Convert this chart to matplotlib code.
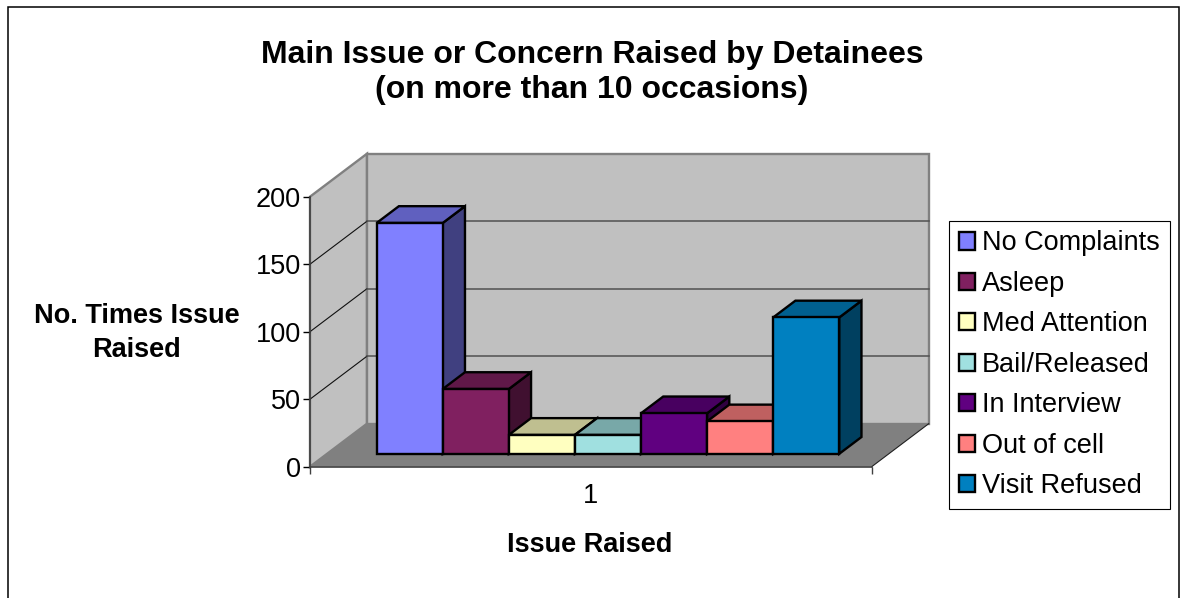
import matplotlib
matplotlib.use("Agg")
import matplotlib.pyplot as plt
from matplotlib.patches import Patch, Polygon, Rectangle

plt.rcParams['font.family'] = ['Liberation Sans', 'DejaVu Sans']

issues = ['No Complaints', 'Asleep', 'Med Attention', 'Bail/Released',
          'In Interview', 'Out of cell', 'Visit Refused']
counts = [171, 48, 14, 14, 30, 24, 101]
front_cols = ['#8080FF', '#802060', '#FFFFC0', '#A0E0E0', '#600080', '#FF8080', '#0080C0']
top_cols = ['#6060BF', '#601848', '#BFBF90', '#78A8A8', '#480060', '#BF6060', '#006090']
side_cols = ['#404080', '#401030', '#808060', '#507070', '#300040', '#804040', '#004060']
y_ticks = [0, 50, 100, 150, 200]

W, H = 1186, 598
# 3d look: how far the back wall sits from the front plane, in data units
depth_x = 57 / 66.08
depth_y = 43 / 1.35
gap = 0.75
bar_d0 = 0.30
bar_d1 = 0.69
x_max = 8.5


def proj(x, v, d):
    return (x + d * depth_x, v + d * depth_y)


fig = plt.figure(figsize=(W / 100, H / 100), dpi=100)
ax = fig.add_axes([310 / W, 1 - 466.7 / H, 561.7 / W, 270 / H])
ax.patch.set_visible(False)

# outer frame, its bottom edge is cut off by the picture
fig.add_artist(Rectangle((7.5 / W, -0.05), (1179 - 7.5) / W, 1.05 - 7.5 / H,
                         transform=fig.transFigure, fill=False, ec='black', lw=1.1))

# walls and floor
wall_kw = dict(clip_on=False, ec='#808080', lw=1.7, joinstyle='miter', zorder=1)
ax.add_patch(Polygon([proj(0, 0, 0), proj(0, 200, 0), proj(0, 200, 1), proj(0, 0, 1)],
                     fc='#C0C0C0', **wall_kw))
ax.add_patch(Polygon([proj(0, 0, 1), proj(x_max, 0, 1), proj(x_max, 200, 1), proj(0, 200, 1)],
                     fc='#C0C0C0', **wall_kw))
ax.add_patch(Polygon([proj(0, 0, 0), proj(x_max, 0, 0), proj(x_max, 0, 1), proj(0, 0, 1)],
                     fc='#808080', ec='none', clip_on=False, zorder=1.5))
ax.plot(*zip(proj(x_max, 0, 0), proj(x_max, 0, 1)), c='#202020', lw=0.8, clip_on=False, zorder=1.6)

for v in y_ticks[1:-1]:
    ax.plot(*zip(proj(0, v, 0), proj(0, v, 1)), c='#101010', lw=0.8, clip_on=False, zorder=2)
    ax.plot(*zip(proj(0, v, 1), proj(x_max, v, 1)), c='#505050', lw=1.1, clip_on=False, zorder=2)

# bars, left to right so each one overlaps the one before
edge_kw = dict(ec='black', lw=1.7, joinstyle='miter', clip_on=False)
for i, (val, fc, tc, sc) in enumerate(zip(counts, front_cols, top_cols, side_cols)):
    x0 = gap + i
    x1 = x0 + 1
    z = 3 + i
    ax.add_patch(Polygon([proj(x1, 0, bar_d0), proj(x1, 0, bar_d1),
                          proj(x1, val, bar_d1), proj(x1, val, bar_d0)],
                         fc=sc, zorder=z, **edge_kw))
    ax.add_patch(Polygon([proj(x0, val, bar_d0), proj(x1, val, bar_d0),
                          proj(x1, val, bar_d1), proj(x0, val, bar_d1)],
                         fc=tc, zorder=z, **edge_kw))
    ax.bar(x0 + bar_d0 * depth_x, val, width=1, bottom=bar_d0 * depth_y, align='edge',
           color=fc, zorder=z + 0.5, **edge_kw)

ax.set_xlim(0, x_max)
ax.set_ylim(0, 200)

for s in ['top', 'right']:
    ax.spines[s].set_visible(False)
for s in ['left', 'bottom']:
    ax.spines[s].set_color('#404040')
    ax.spines[s].set_linewidth(1.2)
    ax.spines[s].set_zorder(2.5)

ax.set_yticks(y_ticks)
ax.set_xticks([x_max / 2])
ax.set_xticklabels(['1'])
ax.set_xticks([0, x_max], minor=True)
ax.tick_params(axis='y', labelsize=19.5, length=5, width=1, pad=1.5)
ax.tick_params(axis='x', which='major', labelsize=19.5, length=0, pad=12)
ax.tick_params(axis='x', which='minor', length=5, width=1, color='#404040')

fig.text(592 / W, 1 - 55 / H, 'Main Issue or Concern Raised by Detainees', fontsize=23,
         fontweight='bold', ha='center', va='center')
fig.text(592 / W, 1 - 90 / H, '(on more than 10 occasions)', fontsize=23,
         fontweight='bold', ha='center', va='center')
fig.text(137 / W, 1 - 316 / H, 'No. Times Issue', fontsize=19.5, fontweight='bold', ha='center', va='center')
fig.text(137 / W, 1 - 350 / H, 'Raised', fontsize=19.5, fontweight='bold', ha='center', va='center')
fig.text(590 / W, 1 - 545 / H, 'Issue Raised', fontsize=19.5, fontweight='bold', ha='center', va='center')

handles = [Patch(fc=c, ec='black', lw=1.7) for c in front_cols]
leg = fig.legend(handles, issues, loc='upper left', bbox_to_anchor=(949 / W, 1 - 220.7 / H),
                 bbox_transform=fig.transFigure, fontsize=19.5, frameon=True, fancybox=False,
                 edgecolor='black', framealpha=1, borderaxespad=0, borderpad=0.36,
                 labelspacing=0.535, handlelength=0.6, handleheight=0.6, handletextpad=0.26)
leg.get_frame().set_linewidth(0.8)

fig.savefig('out.png', dpi=100)
